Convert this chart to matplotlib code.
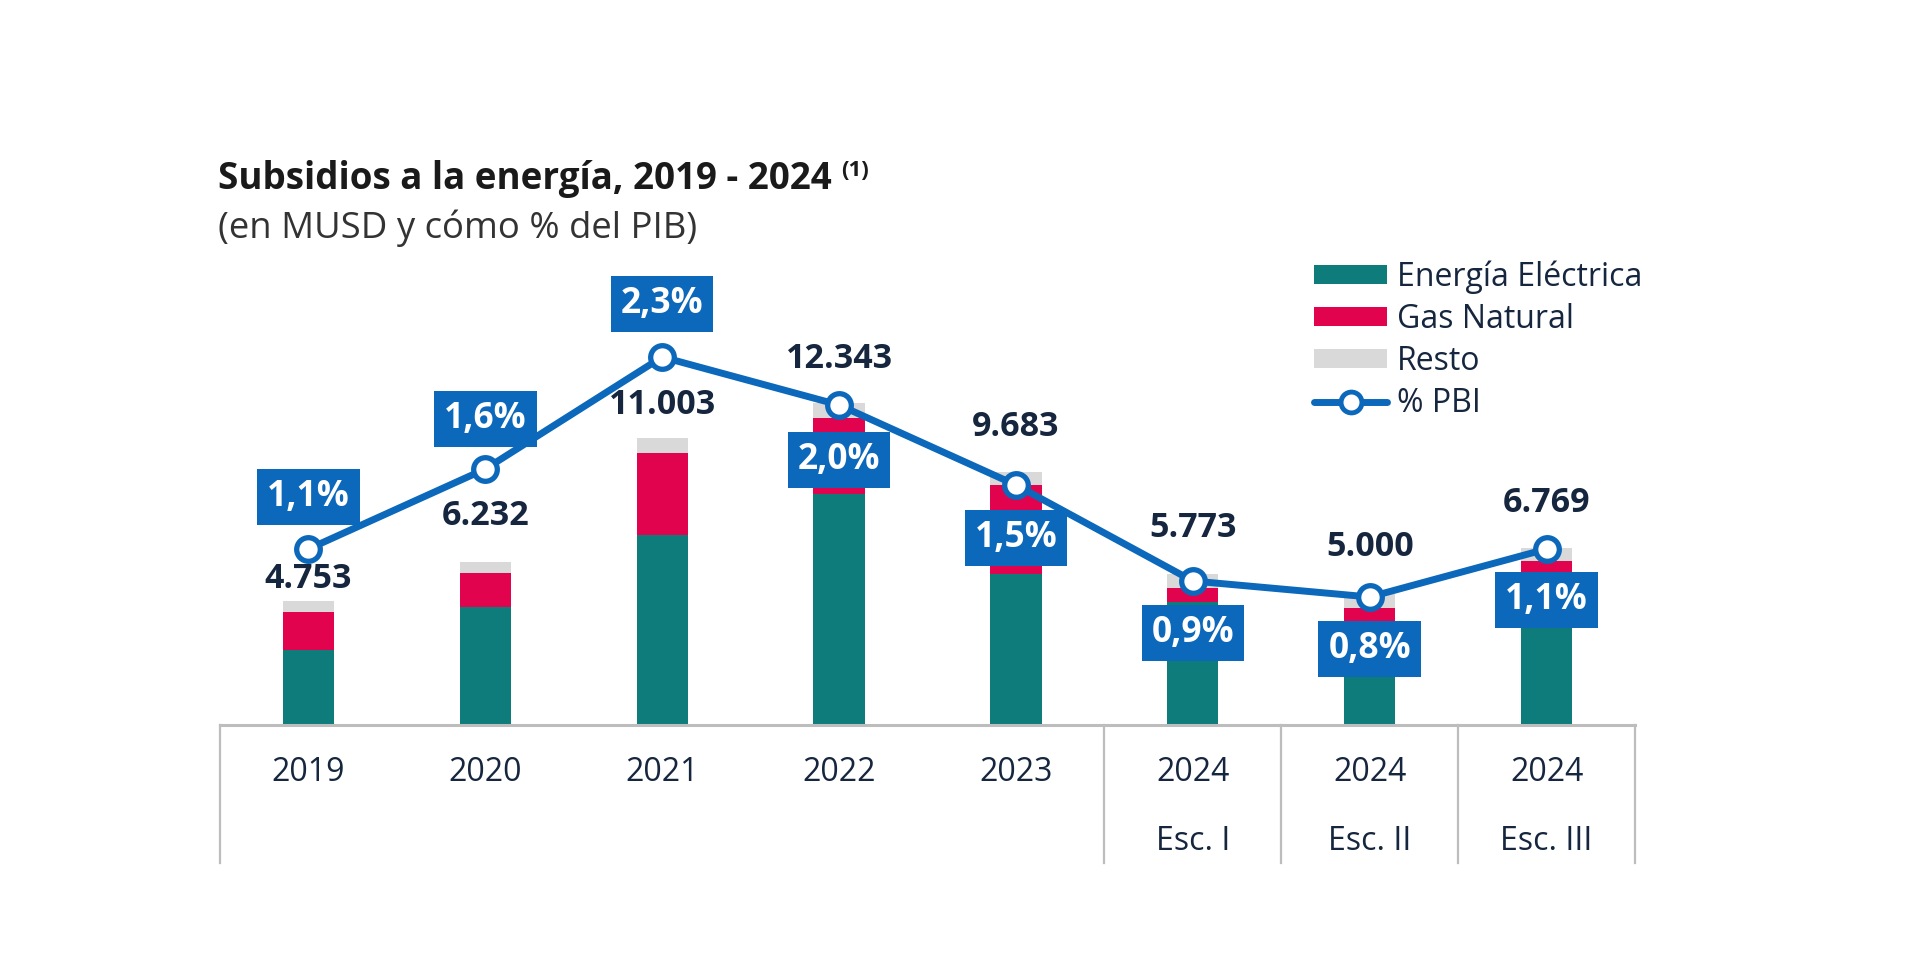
import matplotlib
matplotlib.use("Agg")
import matplotlib.pyplot as plt
import matplotlib.transforms as mtransforms
from matplotlib.patches import Patch
from matplotlib.lines import Line2D
import numpy as np

# ---------------- data ----------------
years = ["2019", "2020", "2021", "2022", "2023", "2024", "2024", "2024"]
scenarios = ["", "", "", "", "", "Esc. I", "Esc. II", "Esc. III"]
energia_electrica = [2875, 4525, 7275, 8838, 5797, 4700, 3950, 5700]
gas_natural = [1456, 1293, 3150, 2912, 3390, 554, 540, 575]
resto = [422, 414, 578, 593, 496, 519, 510, 494]
pct_pbi = [1.1, 1.6, 2.3, 2.0, 1.5, 0.9, 0.8, 1.1]

title = "Subsidios a la energía, 2019 - 2024"
title_note = "(1)"
subtitle = "(en MUSD y cómo % del PIB)"
legend_labels = ["Energía Eléctrica", "Gas Natural", "Resto", "% PBI"]

# ---------------- style ----------------
TEAL = "#0E7C7B"
RED = "#E2034F"
GREY = "#D9D9D9"
BLUE = "#0B68BA"
NAVY = "#15263E"
AXGREY = "#BDBDBD"
FONT = ["Open Sans", "DejaVu Sans"]
plt.rcParams["font.family"] = FONT

DPI = 100
fig = plt.figure(figsize=(19.2, 9.57), dpi=DPI)
W, H = 1920, 957

# axes geometry (pixels)
x_left, x_right = 220, 1635
y_base, y_top = 725, 200
ax = fig.add_axes([x_left / W, (H - y_base) / H, (x_right - x_left) / W, (y_base - y_top) / H])
ax2 = ax.twinx()

px_per_musd = 0.0261
px_per_pct = 160.0
ax.set_ylim(0, (y_base - y_top) / px_per_musd)
ax2.set_ylim(0, (y_base - y_top) / px_per_pct)

n = len(years)
x = np.arange(n)
ax.set_xlim(-0.5, n - 0.5)

elec = np.array(energia_electrica)
gas = np.array(gas_natural)
rest = np.array(resto)
total = elec + gas + rest

bw = 0.29
ax.bar(x, elec, bw, color=TEAL, zorder=1)
ax.bar(x, gas, bw, bottom=elec, color=RED, zorder=1)
ax.bar(x, rest, bw, bottom=elec + gas, color=GREY, zorder=1)

for a in (ax, ax2):
    for s in a.spines.values():
        s.set_visible(False)
    a.set_yticks([])
ax.tick_params(axis="x", length=0, pad=22, labelsize=23, labelcolor=NAVY)

tick_labels = [y if not s else f"{y}\n{s}" for y, s in zip(years, scenarios)]
ax.set_xticks(x)
ax.set_xticklabels(tick_labels)
for lbl in ax.get_xticklabels():
    lbl.set_linespacing(2.45)

# base line and separators
ax.axhline(0, color=AXGREY, lw=2.2, zorder=2, clip_on=False)
trans = mtransforms.blended_transform_factory(ax.transData, ax.transAxes)
sep_len = (863 - y_base) / (y_base - y_top)
for xs in [-0.5, 4.5, 5.5, 6.5, n - 0.5]:
    ax.add_line(Line2D([xs, xs], [0, -sep_len], transform=trans, color=AXGREY,
                       lw=1.6, clip_on=False))

# value labels (offset above bar top, px)
val_off_px = [22, 46, 33, 44, 45, 46, 47, 45]
for xi, t, off in zip(x, total, val_off_px):
    s = f"{t:,}".replace(",", ".")
    ax.annotate(s, (xi, t), xytext=(0, off * 72 / DPI), textcoords="offset points",
                ha="center", va="center", fontsize=24.5, fontweight="bold",
                color=NAVY, zorder=5)

# percentage line
ax2.plot(x, pct_pbi, color=BLUE, lw=5, zorder=3, solid_capstyle="round",
         marker="o", markersize=17, markerfacecolor="white",
         markeredgecolor=BLUE, markeredgewidth=3.8)

pct_off_px = [52, 50, 53, -55, -53, -52, -52, -51]
for xi, p, off in zip(x, pct_pbi, pct_off_px):
    s = f"{p:.1f}%".replace(".", ",")
    ax2.annotate(s, (xi, p), xytext=(0, off * 72 / DPI), textcoords="offset points",
                 ha="center", va="center", fontsize=25.5, fontweight="bold",
                 color="white", zorder=6,
                 bbox=dict(boxstyle="square,pad=0.28", fc=BLUE, ec="none"))

# titles
t1 = fig.text(218 / W, 1 - 179 / H, title, fontsize=26.5, fontweight="bold",
              color="#1A1A1A", ha="left", va="center")
fig.canvas.draw()
bb = t1.get_window_extent()
fig.text((bb.x1 + 9) / W, 1 - 170 / H, title_note, fontsize=16, fontweight="bold",
         color="#1A1A1A", ha="left", va="center")
fig.text(218 / W, 1 - 228 / H, subtitle, fontsize=26.3, color="#333333",
         ha="left", va="center")

# legend
handles = [
    Patch(facecolor=TEAL, edgecolor="none"),
    Patch(facecolor=RED, edgecolor="none"),
    Patch(facecolor=GREY, edgecolor="none"),
    Line2D([], [], color=BLUE, lw=5, marker="o", markersize=15,
           markerfacecolor="white", markeredgecolor=BLUE, markeredgewidth=3.5,
           solid_capstyle="round"),
]
leg = fig.legend(handles, legend_labels, loc="upper left",
                 bbox_to_anchor=(1314 / W, 1 - 260 / H), frameon=False,
                 fontsize=23, handlelength=2.3, handleheight=0.53,
                 handletextpad=0.3, labelspacing=0.29, borderpad=0,
                 borderaxespad=0)
for txt in leg.get_texts():
    txt.set_color(NAVY)

fig.savefig("out.png", dpi=DPI, facecolor="white")
